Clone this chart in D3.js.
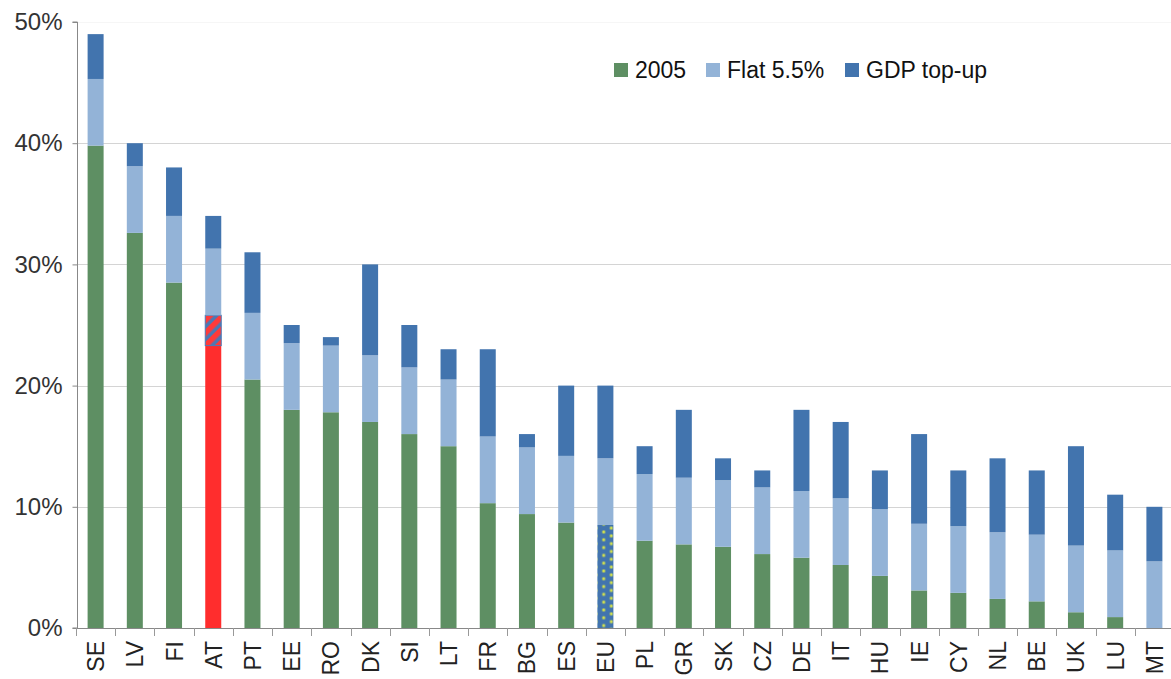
<!DOCTYPE html>
<html>
<head>
<meta charset="utf-8">
<script src="https://cdn.jsdelivr.net/npm/d3@7"></script>
<style>
  body { margin: 0; background: #fff; }
  svg { font-family: "Liberation Sans", Arial, sans-serif; }
</style>
</head>
<body>
<svg id="chart" width="1171" height="679"></svg>
<script>
// countries along the x axis
const countries = ['SE','LV','FI','AT','PT','EE','RO','DK','SI','LT','FR','BG','ES','EU',
  'PL','GR','SK','CZ','DE','IT','HU','IE','CY','NL','BE','UK','LU','MT'];
const share2005 = [39.8,32.6,28.5,23.3,20.5,18.0,17.8,17.0,16.0,15.0,10.3,9.4,8.7,8.5,
  7.2,6.9,6.7,6.1,5.8,5.2,4.3,3.1,2.9,2.4,2.2,1.3,0.9,0.0];
// hatched extra slice shown on AT only
const hatchExtra = [0,0,0,2.5,0,0,0,0,0,0,0,0,0,0,0,0,0,0,0,0,0,0,0,0,0,0,0,0];
const flat55 = [5.5,5.5,5.5,5.5,5.5,5.5,5.5,5.5,5.5,5.5,5.5,5.5,5.5,5.5,
  5.5,5.5,5.5,5.5,5.5,5.5,5.5,5.5,5.5,5.5,5.5,5.5,5.5,5.5];
const gdpTopUp = [3.7,1.9,4.0,2.7,5.0,1.5,0.7,7.5,3.5,2.5,7.2,1.1,5.8,6.0,
  2.3,5.6,1.8,1.4,6.7,6.3,3.2,7.4,4.6,6.1,5.3,8.2,4.6,4.5];
const yTicks = [0,10,20,30,40,50];
const legendNames = ['2005','Flat 5.5%','GDP top-up'];

const colors = { base: '#5e8f63', hatch: 'url(#hatch)', flat: '#93b3d7', topup: '#4274ae' };

const data = countries.map((c, i) => ({
  country: c, base: share2005[i], hatch: hatchExtra[i], flat: flat55[i], topup: gdpTopUp[i]
}));

const svg = d3.select('#chart');

const x = d3.scaleBand().domain(countries).range([76, 1174]);
const y = d3.scaleLinear().domain([0, 50]).range([628, 22]);
const barW = 16;

// patterns
const defs = svg.append('defs');
const hp = defs.append('pattern').attr('id', 'hatch')
  .attr('patternUnits', 'userSpaceOnUse').attr('width', 9).attr('height', 9)
  .attr('patternTransform', 'rotate(45)');
hp.append('rect').attr('width', 9).attr('height', 9).attr('fill', '#4c78b4');
hp.append('rect').attr('width', 5.5).attr('height', 9).attr('fill', '#ff3a3a');

const dp = defs.append('pattern').attr('id', 'dots')
  .attr('patternUnits', 'userSpaceOnUse').attr('width', 15.2).attr('height', 7.8)
  .attr('x', 10.9).attr('y', 1.6);
dp.append('rect').attr('width', 15.2).attr('height', 7.8).attr('fill', '#4274ae');
[[0, 0], [15.2, 0], [0, 7.8], [15.2, 7.8], [7.6, 3.9]].forEach(p => {
  dp.append('circle').attr('cx', p[0]).attr('cy', p[1]).attr('r', 1.9).attr('fill', '#8fae7a');
  dp.append('circle').attr('cx', p[0]).attr('cy', p[1]).attr('r', 1.1).attr('fill', '#d6e44a');
});

// gridlines
svg.append('g').selectAll('line').data(yTicks.filter(d => d > 0)).join('line')
  .attr('x1', 77).attr('x2', 1171)
  .attr('y1', d => Math.round(y(d)) + 0.5).attr('y2', d => Math.round(y(d)) + 0.5)
  .attr('stroke', d => d === 50 ? '#f6f6f6' : '#d4d4d4').attr('stroke-width', 1);

// stacked bars
const keys = ['base', 'hatch', 'flat', 'topup'];
const stack = d3.stack().keys(keys)(data);

svg.append('g').selectAll('g').data(stack).join('g')
  .each(function(layer) {
    d3.select(this).selectAll('rect').data(layer.filter(d => d[1] - d[0] > 0)).join('rect')
      .attr('x', d => x(d.data.country) + x.bandwidth() / 2 - barW / 2)
      .attr('width', barW)
      .attr('y', d => y(d[1]))
      .attr('height', d => y(d[0]) - y(d[1]))
      .attr('fill', d => {
        if (layer.key === 'base' && d.data.country === 'AT') return '#ff2d2d';
        if (layer.key === 'base' && d.data.country === 'EU') return 'url(#dots)';
        return colors[layer.key];
      })
      .attr('stroke', layer.key === 'hatch' ? '#4c78b4' : 'none')
      .attr('stroke-width', 1);
  });

// y axis
const yAxis = svg.append('g').attr('transform', 'translate(77.5,0)')
  .call(d3.axisLeft(y).tickValues(yTicks).tickSize(5).tickPadding(10).tickFormat(d => d + '%'));
yAxis.select('.domain').attr('stroke', '#888').attr('d', 'M-5,' + y(50) + 'H0V' + y(0) + 'H-5');
yAxis.selectAll('.tick line').attr('stroke', '#888');
yAxis.selectAll('.tick text').attr('font-size', 24).attr('fill', '#333')
  .attr('font-family', '"Liberation Sans", Arial, sans-serif');

// x axis baseline and boundary ticks
svg.append('line').attr('x1', 77).attr('x2', 1171).attr('y1', 628.5).attr('y2', 628.5)
  .attr('stroke', '#888');
svg.append('g').selectAll('line').data(countries).join('line')
  .attr('x1', d => Math.round(x(d)) + 0.5).attr('x2', d => Math.round(x(d)) + 0.5)
  .attr('y1', 628).attr('y2', 636).attr('stroke', '#999');

svg.append('g').selectAll('text').data(countries).join('text')
  .attr('transform', d => `translate(${x(d) + x.bandwidth() / 2 + 8.5},641) rotate(-90)`)
  .attr('text-anchor', 'end')
  .attr('font-size', 23).attr('fill', '#222')
  .text(d => d);

// legend
const legX = [614, 706, 845];
const legColors = [colors.base, colors.flat, colors.topup];
const leg = svg.append('g');
legendNames.forEach((name, i) => {
  leg.append('rect').attr('x', legX[i]).attr('y', 63).attr('width', 14).attr('height', 14)
    .attr('fill', legColors[i]);
  leg.append('text').attr('x', legX[i] + 21).attr('y', 78).attr('font-size', 23)
    .attr('fill', '#111').text(name);
});
</script>
</body>
</html>
